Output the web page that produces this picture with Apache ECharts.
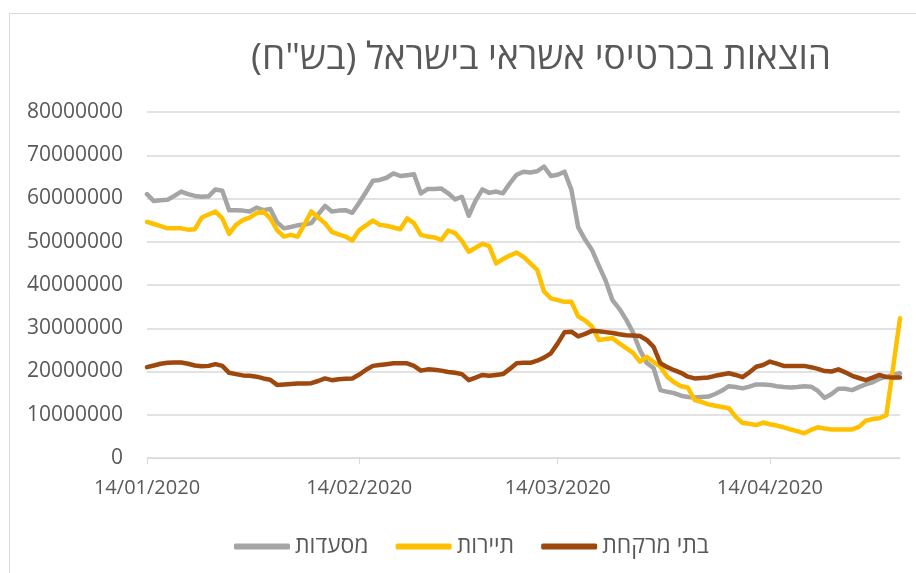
<!DOCTYPE html>
<html>
<head>
<meta charset="utf-8">
<script src="https://cdn.jsdelivr.net/npm/echarts@6/dist/echarts.min.js"></script>
<style>
  html, body { margin: 0; padding: 0; background: #fff; }
  #main { width: 916px; height: 573px; }
</style>
</head>
<body>
<div id="main"></div>
<script>
// daily data from 14/01/2020, values in millions of ILS
var startDate = '2020-01-14';
var dayCount = 111;

var restaurants = [
  61.0, 59.4, 59.6, 59.7, 60.6, 61.6, 61.0, 60.6, 60.4, 60.5,
  62.1, 61.8, 57.3, 57.3, 57.2, 57.0, 57.9, 57.3, 57.6, 54.5,
  53.1, 53.4, 53.8, 54.0, 54.3, 56.3, 58.3, 57.0, 57.2, 57.3,
  56.7, 59.0, 61.5, 64.1, 64.3, 64.8, 65.8, 65.2, 65.4, 65.6,
  61.2, 62.2, 62.2, 62.3, 61.2, 59.8, 60.4, 56.0, 59.5, 62.1,
  61.3, 61.6, 61.2, 63.5, 65.5, 66.2, 66.0, 66.3, 67.4, 65.2,
  65.5, 66.2, 62.0, 53.3, 50.5, 48.1, 44.5, 41.0, 36.5, 34.5,
  32.0, 29.0, 25.0, 22.0, 20.8, 15.7, 15.3, 15.0, 14.4, 14.1,
  14.0, 14.1, 14.2, 14.8, 15.6, 16.6, 16.4, 16.1, 16.5, 17.0,
  17.0, 16.9, 16.6, 16.4, 16.3, 16.4, 16.6, 16.5, 15.5, 13.9,
  14.8, 16.0, 16.0, 15.7, 16.4, 17.0, 17.5, 18.3, 18.8, 19.2,
  19.6
];

var tourism = [
  54.6, 54.1, 53.6, 53.1, 53.1, 53.1, 52.8, 52.9, 55.6, 56.3,
  57.0, 55.4, 51.8, 53.9, 55.0, 55.6, 56.6, 57.0, 55.4, 52.7,
  51.2, 51.6, 51.2, 54.0, 57.0, 55.6, 54.3, 52.3, 51.7, 51.2,
  50.3, 52.7, 53.8, 54.9, 53.9, 53.7, 53.3, 52.9, 55.4, 54.3,
  51.6, 51.2, 51.0, 50.4, 52.6, 52.0, 50.2, 47.7, 48.6, 49.5,
  49.0, 45.0, 46.0, 46.8, 47.5, 46.5, 45.0, 43.5, 38.5, 36.9,
  36.5, 36.1, 36.1, 32.7, 31.8, 30.4, 27.3, 27.5, 27.7, 26.5,
  25.4, 24.3, 22.3, 23.4, 22.2, 21.1, 18.8, 17.5, 16.6, 16.3,
  13.4, 13.0, 12.4, 12.1, 11.8, 11.5, 9.5, 8.1, 7.9, 7.6,
  8.2, 7.8, 7.5, 7.1, 6.6, 6.2, 5.7, 6.5, 7.1, 6.8,
  6.6, 6.6, 6.6, 6.6, 7.2, 8.6, 9.0, 9.2, 9.9, 21.0,
  32.3
];

var pharmacies = [
  21.0, 21.4, 21.8, 22.0, 22.1, 22.1, 21.8, 21.4, 21.2, 21.3,
  21.7, 21.3, 19.7, 19.4, 19.1, 19.0, 18.8, 18.4, 18.1, 16.9,
  17.0, 17.1, 17.2, 17.2, 17.3, 17.8, 18.4, 18.0, 18.2, 18.3,
  18.4, 19.3, 20.4, 21.3, 21.5, 21.7, 21.9, 21.9, 21.9, 21.3,
  20.2, 20.5, 20.4, 20.2, 19.9, 19.7, 19.4, 18.0, 18.6, 19.2,
  19.0, 19.2, 19.4, 20.6, 21.9, 22.0, 22.0, 22.5, 23.2, 24.2,
  26.5, 29.1, 29.2, 28.1, 28.7, 29.4, 29.3, 29.1, 28.9, 28.6,
  28.4, 28.3, 28.2, 27.3, 25.7, 21.9, 21.0, 20.3, 19.7, 18.8,
  18.4, 18.5, 18.6, 19.0, 19.3, 19.6, 19.2, 18.7, 19.8, 21.1,
  21.5, 22.3, 21.8, 21.3, 21.3, 21.3, 21.3, 21.0, 20.6, 20.1,
  20.0, 20.5, 19.8, 19.0, 18.5, 18.0, 18.6, 19.2, 18.7, 18.6,
  18.6
];

var seriesNames = ['מסעדות', 'תיירות', 'בתי מרקחת'];
var seriesColors = ['#A5A5A5', '#FFC000', '#9E480E'];

// category labels dd/mm/yyyy
var dates = [];
var d0 = new Date(startDate + 'T00:00:00Z');
for (var i = 0; i < dayCount; i++) {
  var d = new Date(d0.getTime() + i * 86400000);
  var dd = ('0' + d.getUTCDate()).slice(-2);
  var mm = ('0' + (d.getUTCMonth() + 1)).slice(-2);
  dates.push(dd + '/' + mm + '/' + d.getUTCFullYear());
}

// labels and ticks only on the 14th of each month
function isTickDay(index, value) {
  return value.slice(0, 2) === '14';
}

var font = "'Open Sans', 'DejaVu Sans', sans-serif";
var myChart = echarts.init(document.getElementById('main'));

var option = {
  backgroundColor: '#fff',
  animation: false,
  title: {
    text: 'הוצאות בכרטיסי אשראי בישראל (בש"ח)\u200F',
    left: 536,
    top: 35,
    textAlign: 'center',
    textStyle: { color: '#595959', fontSize: 37, fontWeight: 'normal', fontFamily: font }
  },
  graphic: [{
    type: 'rect',
    shape: { x: 9.5, y: 13.5, width: 1000, height: 1000 },
    style: { fill: 'none', stroke: '#d9d9d9', lineWidth: 1 },
    silent: true
  }],
  legend: {
    data: seriesNames,
    left: 229,
    top: 530,
    itemWidth: 56,
    itemHeight: 6,
    itemGap: 27,
    icon: 'roundRect',
    textStyle: { color: '#595959', fontSize: 23, fontFamily: font }
  },
  grid: { left: 147, right: 16, top: 112, bottom: 115, containLabel: false },
  xAxis: {
    type: 'category',
    data: dates,
    boundaryGap: false,
    axisLine: { lineStyle: { color: '#d9d9d9', width: 1 } },
    axisTick: { show: true, interval: isTickDay, length: 6, lineStyle: { color: '#d9d9d9' } },
    axisLabel: {
      interval: isTickDay,
      color: '#595959',
      fontSize: 20,
      fontFamily: font,
      margin: 20
    },
    splitLine: { show: false }
  },
  yAxis: {
    type: 'value',
    min: 0,
    max: 80,
    interval: 10,
    axisLine: { show: false },
    axisTick: { show: false },
    axisLabel: {
      color: '#595959',
      fontSize: 21,
      fontFamily: font,
      margin: 24,
      formatter: function (v) { return v === 0 ? '0' : v + '000000'; }
    },
    splitLine: { lineStyle: { color: '#d9d9d9', width: 1.5 } }
  },
  series: [
    { name: seriesNames[0], data: restaurants },
    { name: seriesNames[1], data: tourism },
    { name: seriesNames[2], data: pharmacies }
  ].map(function (s, k) {
    return {
      name: s.name,
      type: 'line',
      data: s.data,
      showSymbol: false,
      symbol: 'none',
      color: seriesColors[k],
      lineStyle: { width: 4.5, color: seriesColors[k], cap: 'round', join: 'round' }
    };
  })
};

myChart.setOption(option);
</script>
</body>
</html>
